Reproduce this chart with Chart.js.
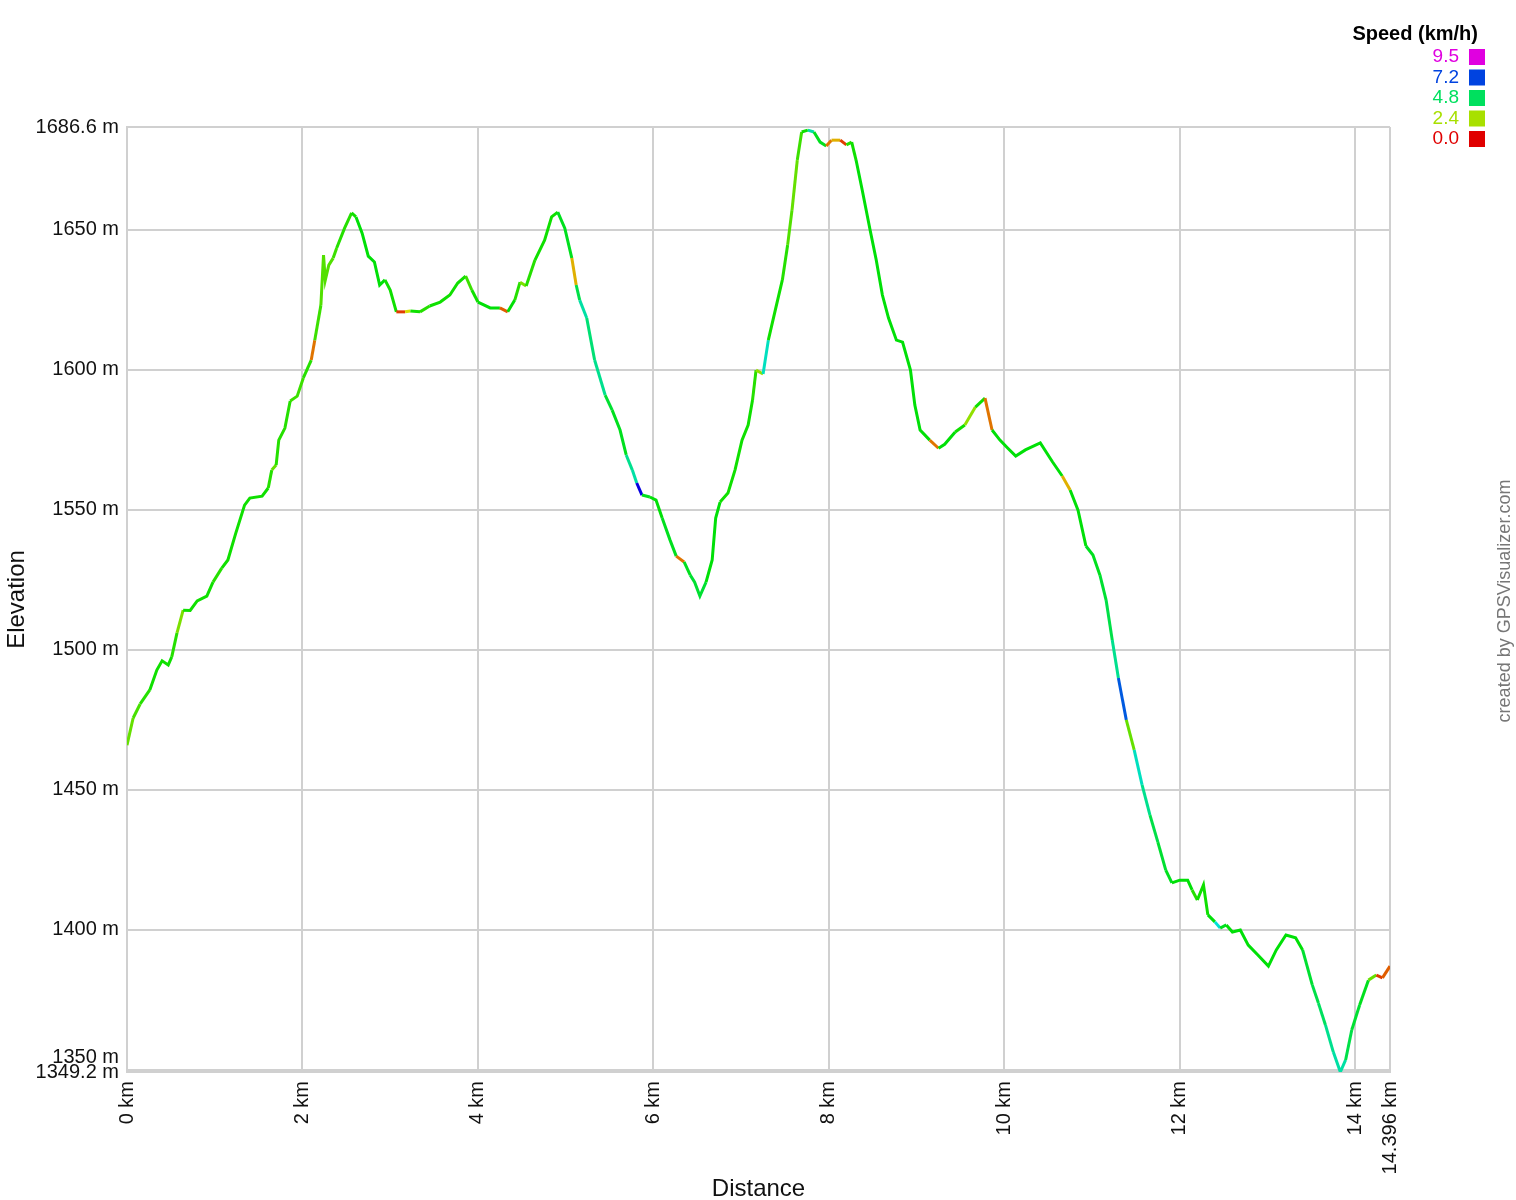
<!DOCTYPE html>
<html>
<head>
<meta charset="utf-8">
<script src="https://cdn.jsdelivr.net/npm/chart.js@4/dist/chart.umd.min.js"></script>
<style>
  html, body { margin: 0; padding: 0; background: #fff; }
  #wrap { width: 1516px; height: 1200px; }
</style>
</head>
<body>
<div id="wrap"><canvas id="profile" width="1516" height="1200"></canvas></div>
<script>
// ── data ──────────────────────────────────────────────────
const distKm = [
  0.00, 0.07, 0.15, 0.26, 0.34, 0.40, 0.47, 0.51, 0.57, 0.64,
  0.72, 0.80, 0.91, 0.98, 1.08, 1.15, 1.24, 1.34, 1.40, 1.54,
  1.61, 1.65, 1.70, 1.73, 1.80, 1.86, 1.94, 2.01, 2.10, 2.14,
  2.21, 2.24, 2.26, 2.30, 2.35, 2.39, 2.48, 2.56, 2.61, 2.68,
  2.75, 2.82, 2.88, 2.94, 3.00, 3.07, 3.17, 3.23, 3.34, 3.45,
  3.57, 3.68, 3.77, 3.86, 3.93, 4.00, 4.14, 4.25, 4.34, 4.42,
  4.48, 4.55, 4.65, 4.76, 4.84, 4.91, 4.99, 5.07, 5.12, 5.16,
  5.24, 5.33, 5.45, 5.53, 5.62, 5.69, 5.76, 5.81, 5.87, 5.96,
  6.03, 6.10, 6.19, 6.26, 6.35, 6.42, 6.47, 6.53, 6.60, 6.67,
  6.71, 6.76, 6.85, 6.93, 7.01, 7.08, 7.13, 7.17, 7.25, 7.31,
  7.39, 7.47, 7.53, 7.58, 7.64, 7.69, 7.76, 7.83, 7.90, 7.97,
  8.03, 8.13, 8.20, 8.26, 8.31, 8.38, 8.47, 8.54, 8.61, 8.68,
  8.77, 8.84, 8.93, 8.98, 9.04, 9.15, 9.25, 9.32, 9.44, 9.55,
  9.67, 9.78, 9.86, 9.95, 10.04, 10.13, 10.24, 10.41, 10.55, 10.66,
  10.75, 10.84, 10.93, 11.01, 11.09, 11.16, 11.23, 11.30, 11.39, 11.48,
  11.57, 11.66, 11.75, 11.84, 11.91, 12.00, 12.09, 12.14, 12.20, 12.27,
  12.32, 12.40, 12.46, 12.53, 12.60, 12.69, 12.78, 12.89, 13.01, 13.10,
  13.21, 13.32, 13.40, 13.51, 13.58, 13.66, 13.75, 13.83, 13.89, 13.96,
  14.05, 14.15, 14.24, 14.31, 14.396
];

const elevM = [
  1465.9, 1475.6, 1480.6, 1485.6, 1492.7, 1496.0, 1494.5, 1497.4, 1506.0, 1514.1,
  1514.0, 1517.4, 1519.1, 1524.1, 1529.1, 1532.0, 1541.6, 1551.6, 1554.1, 1554.8,
  1557.7, 1564.1, 1565.9, 1574.8, 1579.1, 1588.8, 1590.5, 1597.0, 1603.4, 1610.5,
  1623.0, 1640.9, 1631.9, 1637.3, 1639.8, 1643.4, 1650.5, 1655.9, 1654.5, 1648.7,
  1640.5, 1638.4, 1630.2, 1632.0, 1628.4, 1620.6, 1620.6, 1620.9, 1620.6, 1622.7,
  1624.1, 1626.6, 1630.9, 1633.4, 1628.4, 1624.1, 1622.0, 1622.0, 1620.6, 1624.8,
  1631.2, 1629.8, 1639.1, 1646.2, 1654.5, 1656.2, 1650.5, 1639.8, 1630.2, 1624.8,
  1618.4, 1603.4, 1590.9, 1585.5, 1578.4, 1569.5, 1564.1, 1559.5, 1555.2, 1554.5,
  1553.4, 1547.0, 1539.1, 1533.4, 1531.3, 1526.6, 1524.1, 1519.1, 1524.1, 1532.0,
  1547.0, 1552.7, 1555.9, 1564.1, 1574.8, 1580.2, 1589.1, 1599.8, 1598.4, 1610.5,
  1621.3, 1632.0, 1644.5, 1656.9, 1674.8, 1684.8, 1685.5, 1684.8, 1681.2, 1679.8,
  1681.9, 1681.9, 1680.2, 1681.2, 1674.8, 1664.1, 1649.8, 1639.1, 1626.6, 1618.4,
  1610.5, 1609.8, 1599.8, 1587.3, 1578.4, 1574.8, 1571.9, 1573.3, 1577.7, 1580.2,
  1586.6, 1589.8, 1578.4, 1574.8, 1571.9, 1569.1, 1571.3, 1573.8, 1567.0, 1562.0,
  1557.0, 1549.8, 1537.0, 1533.8, 1526.6, 1517.7, 1503.4, 1489.9, 1474.9, 1464.2,
  1451.7, 1440.9, 1431.3, 1421.3, 1416.7, 1417.7, 1417.7, 1414.2, 1410.6, 1416.0,
  1405.3, 1402.8, 1400.6, 1401.7, 1399.2, 1399.9, 1394.5, 1391.0, 1387.0, 1392.8,
  1398.1, 1397.1, 1392.8, 1380.3, 1373.8, 1366.0, 1356.3, 1349.2, 1353.5, 1364.2,
  1373.1, 1382.0, 1383.8, 1382.8, 1387.0
];

// speed of the segment starting at each point (colours the line)
const speedKmh = [
  3.0, 3.3, 3.6, 3.8, 3.8, 3.8, 3.8, 3.6, 2.8, 3.8,
  3.8, 3.8, 3.8, 3.6, 3.8, 3.8, 3.8, 3.8, 3.8, 3.8,
  3.6, 3.0, 3.6, 3.6, 3.6, 3.4, 3.4, 3.6, 1.0, 3.4,
  3.2, 3.2, 3.2, 3.2, 3.4, 3.6, 3.6, 3.8, 4.0, 4.0,
  4.0, 4.0, 4.0, 3.8, 3.8, 0.5, 2.0, 3.8, 3.6, 3.8,
  3.8, 3.8, 3.8, 3.4, 3.8, 4.0, 4.0, 0.8, 4.0, 3.6,
  2.8, 3.6, 3.8, 3.8, 3.8, 4.2, 4.2, 1.5, 4.6, 5.4,
  5.0, 5.2, 4.4, 4.2, 4.2, 5.2, 5.4, 7.8, 4.2, 4.0,
  4.0, 4.2, 4.2, 1.0, 4.2, 4.4, 4.4, 4.4, 4.0, 4.0,
  4.0, 3.8, 3.8, 3.8, 3.8, 3.8, 3.6, 2.6, 5.6, 3.8,
  3.8, 3.6, 3.2, 3.0, 3.4, 3.8, 5.4, 4.2, 4.2, 1.0,
  1.5, 0.5, 3.6, 3.8, 4.0, 4.0, 4.0, 4.0, 4.0, 4.0,
  4.0, 4.0, 4.0, 4.0, 4.0, 1.0, 4.0, 4.0, 3.8, 2.6,
  3.8, 1.0, 4.0, 4.0, 4.0, 4.0, 4.0, 4.0, 4.0, 1.5,
  4.0, 4.0, 4.2, 4.2, 4.4, 4.6, 5.2, 7.0, 3.0, 5.6,
  5.2, 4.6, 4.4, 4.2, 4.0, 4.0, 4.0, 3.6, 3.8, 3.8,
  4.0, 5.8, 4.2, 4.0, 4.0, 4.0, 4.0, 4.0, 4.0, 4.0,
  4.0, 4.0, 4.4, 4.6, 4.8, 5.2, 5.4, 5.4, 4.6, 4.4,
  4.2, 3.0, 0.5, 0.8, 0.5
];

const xTickKm = [0, 2, 4, 6, 8, 10, 12, 14, 14.396];
const yTickM = [1349.2, 1350, 1400, 1450, 1500, 1550, 1600, 1650, 1686.6];
const legendSpeeds = [9.5, 7.2, 4.8, 2.4, 0.0];

// ── speed → colour (red → yellow-green → green → blue → magenta) ──
const speedStops = [0, 2.4, 4.8, 7.2, 9.5];
const hueStops   = [0, 75, 145, 222, 300];
function speedColor(v) {
  let h = hueStops[hueStops.length - 1];
  for (let i = 0; i < speedStops.length - 1; i++) {
    if (v <= speedStops[i + 1]) {
      const t = Math.max(0, (v - speedStops[i]) / (speedStops[i + 1] - speedStops[i]));
      h = hueStops[i] + t * (hueStops[i + 1] - hueStops[i]);
      break;
    }
  }
  return `hsl(${h.toFixed(0)}, 100%, 44%)`;
}

const FONT = 'Liberation Sans, Arial, sans-serif';
const GRID = '#d0d0d0';

// legend + credit line, drawn over the chart
const extras = {
  id: 'extras',
  afterDraw(chart) {
    const c = chart.ctx;
    c.save();
    c.textBaseline = 'middle';
    c.textAlign = 'right';
    c.fillStyle = '#000';
    c.font = `bold 20px ${FONT}`;
    c.fillText('Speed (km/h)', 1478, 34);
    c.font = `19px ${FONT}`;
    legendSpeeds.forEach((s, i) => {
      const y = 57 + i * 20.5;
      const col = speedColor(s);
      c.fillStyle = col;
      c.fillText(s.toFixed(1), 1459, y);
      c.fillRect(1469, y - 8, 16, 16);
    });
    // credit
    c.translate(1505, 601);
    c.rotate(-Math.PI / 2);
    c.textAlign = 'center';
    c.fillStyle = '#777';
    c.font = `18px ${FONT}`;
    c.fillText('created by GPSVisualizer.com', 0, 0);
    c.restore();
  }
};

new Chart(document.getElementById('profile'), {
  type: 'line',
  data: {
    datasets: [{
      data: distKm.map((d, i) => ({ x: d, y: elevM[i] })),
      borderColor: speedColor(4),
      borderWidth: 3,
      pointRadius: 0,
      tension: 0,
      fill: false,
      segment: {
        borderColor: (ctx) => speedColor(speedKmh[ctx.p0DataIndex])
      }
    }]
  },
  options: {
    responsive: false,
    animation: false,
    layout: { padding: { top: 127, right: 126, left: 0, bottom: 0 } },
    plugins: { legend: { display: false }, tooltip: { enabled: false } },
    scales: {
      x: {
        type: 'linear',
        min: 0, max: 14.396,
        afterBuildTicks: (s) => { s.ticks = xTickKm.map(v => ({ value: v })); },
        afterFit: (s) => { s.height = 128; },
        ticks: {
          autoSkip: false,
          minRotation: 90, maxRotation: 90,
          padding: 9,
          color: '#111',
          font: { family: FONT, size: 20 },
          callback: (v) => v + ' km'
        },
        grid: { color: GRID, lineWidth: 2, drawTicks: false },
        border: { color: GRID, width: 2 },
        title: {
          display: true, text: 'Distance', color: '#111',
          font: { family: FONT, size: 24 }, padding: { top: 0, bottom: -4 }
        }
      },
      y: {
        type: 'linear',
        min: 1349.2, max: 1686.6,
        afterBuildTicks: (s) => { s.ticks = yTickM.map(v => ({ value: v })); },
        afterFit: (s) => { s.width = 127; },
        ticks: {
          autoSkip: false,
          padding: 8,
          color: '#111',
          font: { family: FONT, size: 20 },
          callback: (v) => v === 1350 ? [v + ' m', ''] : v + ' m'
        },
        grid: { color: GRID, lineWidth: 2, drawTicks: false },
        border: { color: GRID, width: 2 },
        title: {
          display: true, text: 'Elevation', color: '#111',
          font: { family: FONT, size: 24 }, padding: { top: 3, bottom: 0 }
        }
      }
    }
  },
  plugins: [extras]
});
</script>
</body>
</html>
